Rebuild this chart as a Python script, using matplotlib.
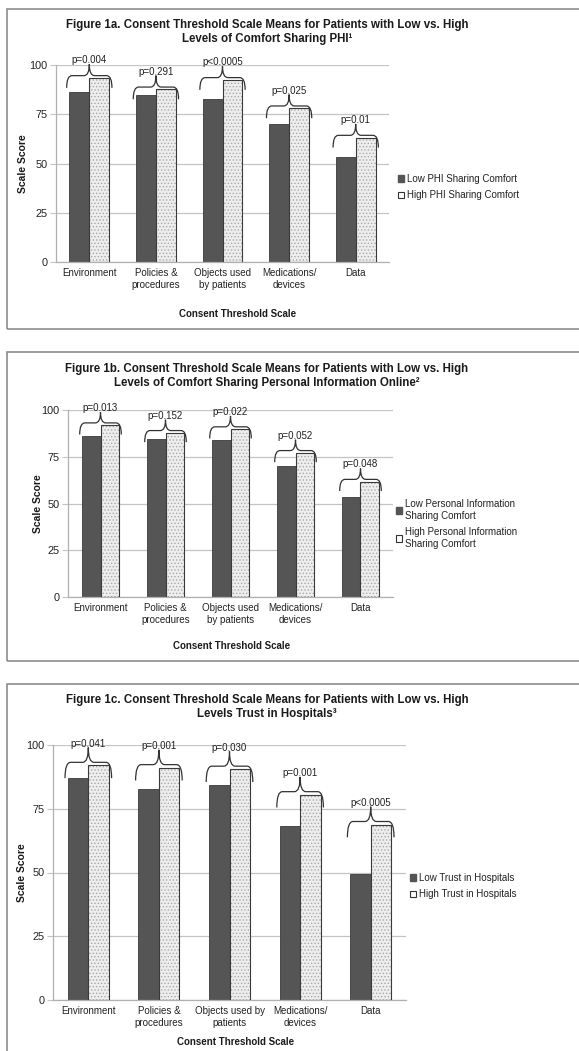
"""
Figure 1a-1c: consent threshold scale means, low vs high groups,
with curly-brace p-value annotations.
"""

import matplotlib.pyplot as plt
from matplotlib.patches import Patch, Rectangle, PathPatch
from matplotlib.path import Path

plt.rcParams['font.family'] = ['Liberation Sans', 'DejaVu Sans']
plt.rcParams['hatch.linewidth'] = 0.6

W, H = 579, 1051

categories_ab = ["Environment", "Policies &\nprocedures", "Objects used\nby patients",
                 "Medications/\ndevices", "Data"]
categories_c = ["Environment", "Policies &\nprocedures", "Objects used by\npatients",
                "Medications/\ndevices", "Data"]

low_a = [86.1, 84.8, 82.6, 69.9, 53.5]
high_a = [93.4, 87.6, 92.4, 78.0, 63.1]
p_a = ["p=0.004", "p=0.291", "p<0.0005", "p=0.025", "p=0.01"]

low_b = [86.0, 84.4, 83.7, 69.8, 53.7]
high_b = [91.9, 87.8, 89.8, 77.1, 61.7]
p_b = ["p=0.013", "p=0.152", "p=0.022", "p=0.052", "p=0.048"]

low_c = [87.1, 82.6, 84.5, 68.4, 49.5]
high_c = [92.0, 91.1, 90.5, 80.5, 68.8]
p_c = ["p=0.041", "p=0.001", "p=0.030", "p=0.001", "p<0.0005"]

titles = [
    "Figure 1a. Consent Threshold Scale Means for Patients with Low vs. High\nLevels of Comfort Sharing PHI\u00b9",
    "Figure 1b. Consent Threshold Scale Means for Patients with Low vs. High\nLevels of Comfort Sharing Personal Information Online\u00b2",
    "Figure 1c. Consent Threshold Scale Means for Patients with Low vs. High\nLevels Trust in Hospitals\u00b3",
]
legend_labels = [
    ["Low PHI Sharing Comfort", "High PHI Sharing Comfort"],
    ["Low Personal Information\nSharing Comfort", "High Personal Information\nSharing Comfort"],
    ["Low Trust in Hospitals", "High Trust in Hospitals"],
]

DARK = '#555555'
LIGHT = '#eeeeee'
EDGE = '#3a3a3a'
GRID = '#c4c4c4'


def fx(px):
    return px / W


def fy(py):
    return 1 - py / H


def draw_brace(ax, x0, x1, top, text):
    xm = (x0 + x1) / 2
    yb, yf, yt = top - 5.0, top + 1.2, top + 7.0
    d = 0.08
    verts = [(x0, yb), (x0, yf), (x0 + d, yf),
             (xm - d, yf),
             (xm, yf), (xm, yt),
             (xm, yf), (xm + d, yf),
             (x1 - d, yf),
             (x1, yf), (x1, yb)]
    codes = [Path.MOVETO, Path.CURVE3, Path.CURVE3,
             Path.LINETO,
             Path.CURVE3, Path.CURVE3,
             Path.CURVE3, Path.CURVE3,
             Path.LINETO,
             Path.CURVE3, Path.CURVE3]
    ax.add_patch(PathPatch(Path(verts, codes), fill=False, edgecolor='#333333',
                           lw=0.9, clip_on=False, zorder=4))
    ax.text(xm, top + 6.5, text, ha='center', va='bottom', fontsize=7,
            color='#222222', clip_on=False, zorder=5)


def draw_panel(fig, rect, cats, low, high, pvals, width):
    ax = fig.add_axes(rect)
    x = list(range(len(cats)))
    xl = [i - width / 2 for i in x]
    xh = [i + width / 2 for i in x]
    ax.bar(xl, low, width, color=DARK, edgecolor=EDGE, lw=0.6, zorder=2)
    ax.bar(xh, high, width, color=LIGHT, edgecolor='#a8a8a8', hatch='.....', lw=0, zorder=2)
    ax.bar(xh, high, width, fill=False, edgecolor=EDGE, lw=0.8, zorder=3)
    for i in x:
        draw_brace(ax, i - width - 0.04, i + width + 0.04, high[i], pvals[i])
    ax.set_xlim(-0.5, len(cats) - 0.5)
    ax.set_ylim(0, 100)
    ax.set_yticks([0, 25, 50, 75, 100])
    ax.set_xticks(x)
    ax.set_xticklabels(cats, fontsize=7, color='#222222', linespacing=1.25)
    ax.tick_params(axis='x', length=0, pad=4)
    ax.tick_params(axis='y', length=4, color=GRID, labelsize=7.8, labelcolor='#222222', pad=2)
    ax.yaxis.grid(True, color=GRID, lw=0.9)
    ax.set_axisbelow(True)
    for s in ['top', 'right']:
        ax.spines[s].set_visible(False)
    for s in ['left', 'bottom']:
        ax.spines[s].set_color('#b0b0b0')
        ax.spines[s].set_linewidth(0.9)
    return ax


fig = plt.figure(figsize=(W / 100, H / 100), dpi=100)

# panel layouts in pixel units: axes box, border box, title y, x-label pos, y-label x, legend pos
panels = [
    dict(ax=(56, 65, 389, 262), border=(7, 9, 600, 329), title_y=32, xlab=(238, 314),
         ylab=23, leg=(398, 174), cats=categories_ab, low=low_a, high=high_a, p=p_a, w=0.3),
    dict(ax=(68, 410, 393, 597), border=(7, 352, 600, 661), title_y=376, xlab=(232, 646),
         ylab=38, leg=(396, 499), cats=categories_ab, low=low_b, high=high_b, p=p_b, w=0.28),
    dict(ax=(53, 745, 406, 1000), border=(7, 684, 600, 1080), title_y=707, xlab=(236, 1042),
         ylab=22, leg=(410, 873), cats=categories_c, low=low_c, high=high_c, p=p_c, w=0.29),
]

for k, pnl in enumerate(panels):
    l, t, r, b = pnl['ax']
    rect = [fx(l), fy(b), (r - l) / W, (b - t) / H]
    draw_panel(fig, rect, pnl['cats'], pnl['low'], pnl['high'], pnl['p'], pnl['w'])

    bl, bt, br, bb = pnl['border']
    fig.add_artist(Rectangle((fx(bl), fy(bb)), (br - bl) / W, (bb - bt) / H,
                             transform=fig.transFigure, fill=False,
                             edgecolor='#8c8c8c', lw=1.2, clip_on=False))

    fig.text(fx(267), fy(pnl['title_y']), titles[k], ha='center', va='center',
             fontsize=8.3, fontweight='bold', color='#1a1a1a', linespacing=1.15)
    fig.text(fx(pnl['xlab'][0]), fy(pnl['xlab'][1]), "Consent Threshold Scale",
             ha='center', va='center', fontsize=7, fontweight='bold', color='#1a1a1a')
    fig.text(fx(pnl['ylab']), fy((t + b) / 2), "Scale Score", rotation=90,
             ha='center', va='center', fontsize=7.5, fontweight='bold', color='#1a1a1a')

    handles = [Patch(facecolor=DARK, edgecolor=DARK),
               Patch(facecolor='white', edgecolor='#333333', lw=0.8)]
    fig.legend(handles, legend_labels[k], loc='upper left',
               bbox_to_anchor=(fx(pnl['leg'][0]), fy(pnl['leg'][1])),
               frameon=False, fontsize=7, handlelength=0.65, handleheight=0.65,
               handletextpad=0.3, labelspacing=0.65, borderpad=0, borderaxespad=0,
               labelcolor='#222222')

fig.savefig("out.png", dpi=100, facecolor='white')
